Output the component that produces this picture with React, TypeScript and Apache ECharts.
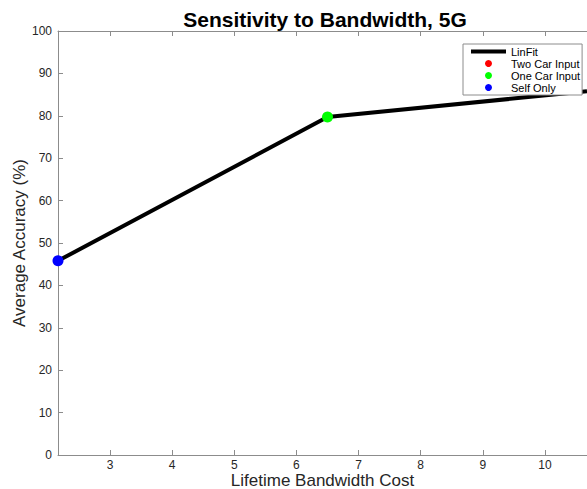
import React, { useEffect, useRef } from "react";
import * as echarts from "echarts";

const xTicks = [3, 4, 5, 6, 7, 8, 9, 10];
const xMin = 2.163;
const xMax = 10.676;
const fitX = [2.163, 6.5, 10.676];
const fitY = [45.8, 79.7, 85.8];
const twoCar: number[][] = [];
const oneCar = [[6.5, 79.7]];
const selfOnly = [[2.163, 45.8]];

const FONT = "Liberation Sans";
const AXIS = "#8c8c8c";
const LABEL = "#262626";

export default function App() {
  const ref = useRef<HTMLDivElement>(null);
  useEffect(() => {
    const chart = echarts.init(ref.current!, null, { renderer: "svg" });
    const tickCommon = {
      show: true,
      inside: true,
      length: 5,
      customValues: xTicks,
      lineStyle: { color: AXIS, width: 1 },
    };
    chart.setOption({
      animation: false,
      backgroundColor: "#fff",
      textStyle: { fontFamily: FONT },
      graphic: [
        {
          type: "text",
          x: 325,
          y: 19,
          style: {
            text: "Sensitivity to Bandwidth, 5G",
            font: `bold 21px "${FONT}"`,
            fill: "#000",
            textAlign: "center",
            textVerticalAlign: "middle",
          },
        },
      ],
      grid: {
        left: 58,
        top: 31,
        right: 0,
        bottom: 34,
        containLabel: false,
        outerBoundsMode: "none",
      },
      legend: {
        orient: "vertical",
        left: 463,
        top: 44,
        padding: [2, 2, 2, 8],
        itemWidth: 35,
        itemHeight: 7,
        itemGap: 1,
        symbolKeepAspect: true,
        borderColor: AXIS,
        borderWidth: 1,
        backgroundColor: "#fff",
        textStyle: { fontFamily: FONT, fontSize: 11, color: "#000" },
        data: [
          { name: "LinFit", icon: "path://M0,0L35,0L35,4L0,4Z" },
          { name: "Two Car Input", icon: "circle" },
          { name: "One Car Input", icon: "circle" },
          { name: "Self Only", icon: "circle" },
        ],
      },
      xAxis: [
        {
          type: "value",
          min: xMin,
          max: xMax,
          position: "bottom",
          splitLine: { show: false },
          axisLine: { show: true, lineStyle: { color: AXIS, width: 1 } },
          axisTick: tickCommon,
          axisLabel: {
            customValues: xTicks,
            color: LABEL,
            fontSize: 12,
            lineHeight: 12,
            margin: 4,
            fontFamily: FONT,
          },
          name: "Lifetime Bandwidth Cost",
          nameLocation: "middle",
          nameGap: 17,
          nameMoveOverlap: false,
          nameTextStyle: { fontSize: 17, lineHeight: 17, color: LABEL, fontFamily: FONT },
        },
        {
          type: "value",
          min: xMin,
          max: xMax,
          position: "top",
          splitLine: { show: false },
          axisLine: { show: true, lineStyle: { color: AXIS, width: 1 } },
          axisTick: tickCommon,
          axisLabel: { show: false },
        },
      ],
      yAxis: {
        type: "value",
        min: 0,
        max: 100,
        interval: 10,
        splitLine: { show: false },
        axisLine: { show: true, lineStyle: { color: AXIS, width: 1 } },
        axisTick: { show: true, inside: true, length: 5, lineStyle: { color: AXIS } },
        axisLabel: { color: LABEL, fontSize: 12, margin: 6, fontFamily: FONT },
        name: "Average Accuracy (%)",
        nameLocation: "middle",
        nameGap: 30,
        nameMoveOverlap: false,
        nameTextStyle: { fontSize: 17, color: LABEL, fontFamily: FONT },
      },
      series: [
        {
          name: "LinFit",
          type: "line",
          data: fitX.map((x, i) => [x, fitY[i]]),
          symbol: "none",
          clip: true,
          lineStyle: { color: "#000", width: 4 },
          itemStyle: { color: "#000" },
          z: 2,
        },
        {
          name: "Two Car Input",
          type: "scatter",
          data: twoCar,
          symbolSize: 11,
          itemStyle: { color: "#ff0000", opacity: 1 },
          clip: false,
          z: 3,
        },
        {
          name: "One Car Input",
          type: "scatter",
          data: oneCar,
          symbolSize: 11,
          itemStyle: { color: "#00ff00", opacity: 1 },
          clip: false,
          z: 3,
        },
        {
          name: "Self Only",
          type: "scatter",
          data: selfOnly,
          symbolSize: 11,
          itemStyle: { color: "#0000ff", opacity: 1 },
          clip: false,
          z: 3,
        },
      ],
    });
    return () => chart.dispose();
  }, []);
  return (
    <div
      ref={ref}
      style={{ position: "fixed", left: 0, top: 0, width: 587, height: 489 }}
    />
  );
}
